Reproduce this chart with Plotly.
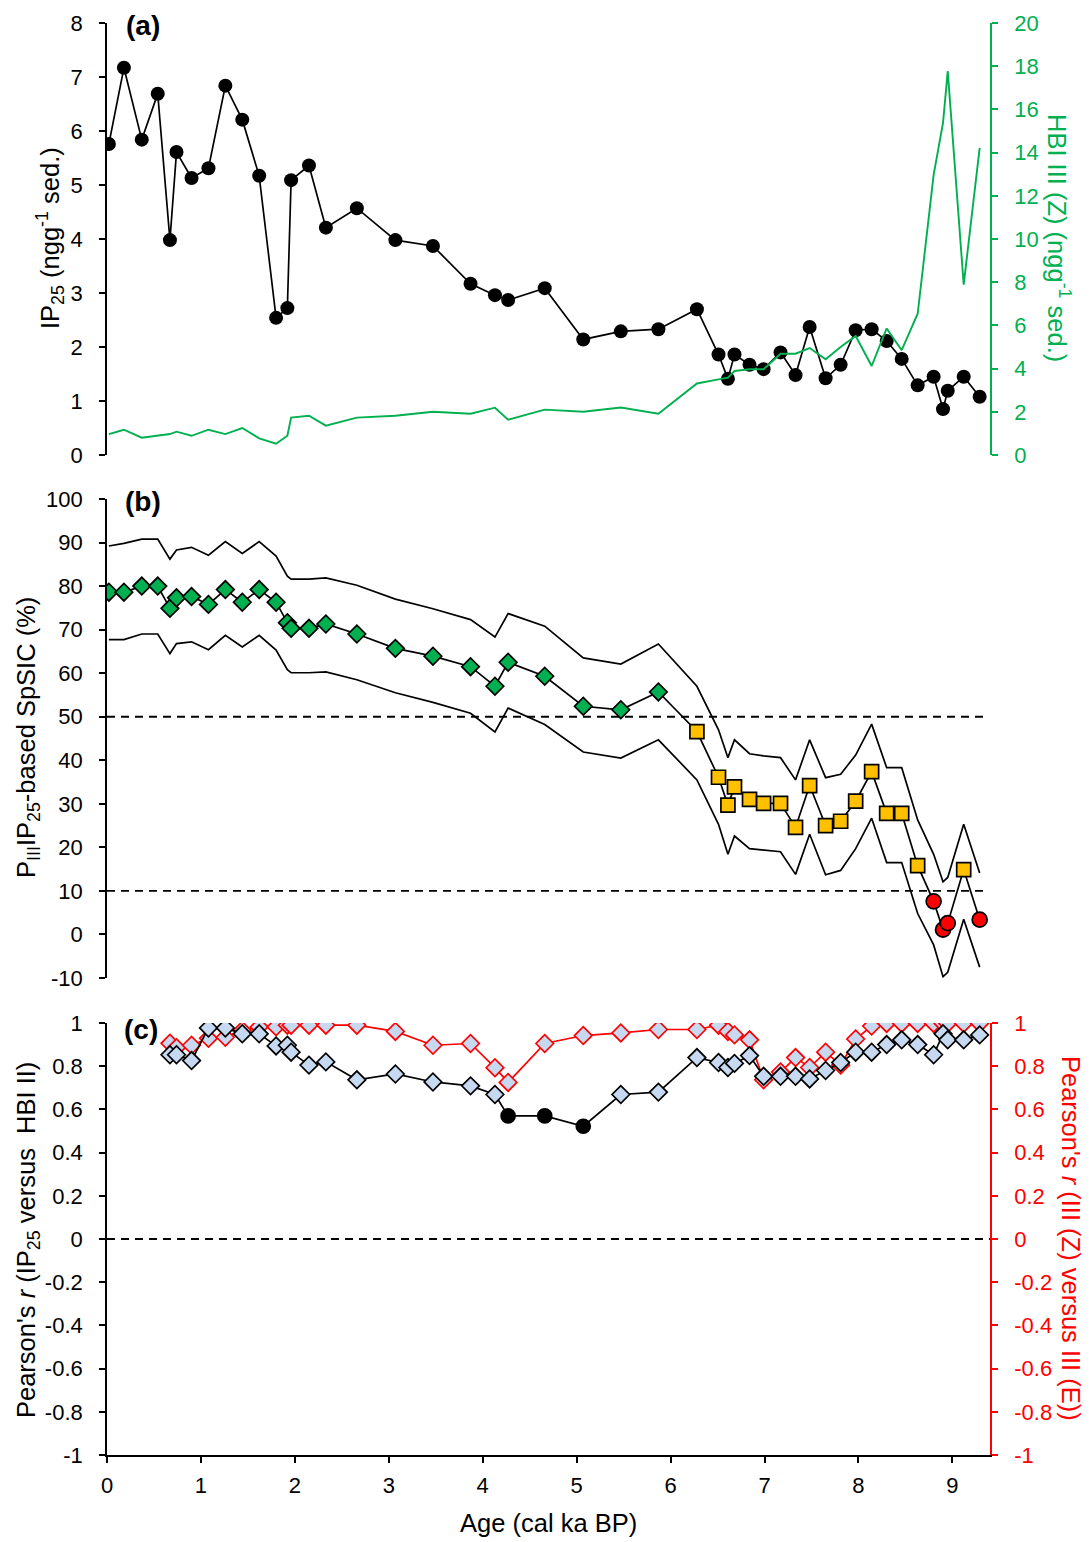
import plotly.graph_objects as go

# ---------------- data ----------------
ages = [0.02, 0.18, 0.37, 0.54, 0.67, 0.74, 0.90, 1.08, 1.26, 1.44, 1.62, 1.80, 1.92, 1.96,
        2.15, 2.33, 2.66, 3.07, 3.47, 3.87, 4.13, 4.27, 4.66, 5.07, 5.47, 5.87, 6.28, 6.51,
        6.61, 6.68, 6.84, 6.99, 7.17, 7.33, 7.48, 7.65, 7.81, 7.97, 8.14, 8.30, 8.46, 8.63,
        8.80, 8.90, 8.95, 9.12, 9.29]

ip25 = [5.76, 7.17, 5.84, 6.69, 3.98, 5.61, 5.13, 5.31, 6.84, 6.21, 5.17, 2.54, 2.72, 5.09,
        5.36, 4.21, 4.57, 3.98, 3.87, 3.17, 2.96, 2.87, 3.09, 2.14, 2.29, 2.33, 2.70, 1.86,
        1.41, 1.86, 1.67, 1.59, 1.90, 1.48, 2.37, 1.42, 1.67, 2.31, 2.33, 2.11, 1.78, 1.29,
        1.45, 0.85, 1.19, 1.45, 1.08]

hbi3_z = [0.97, 1.17, 0.80, 0.90, 0.97, 1.08, 0.89, 1.17, 0.97, 1.25, 0.77, 0.52, 0.89, 1.73,
          1.82, 1.36, 1.73, 1.82, 2.00, 1.91, 2.19, 1.63, 2.10, 2.00, 2.20, 1.91, 3.31, 3.50,
          3.58, 3.89, 3.97, 3.97, 4.69, 4.69, 4.95, 4.43, 5.00, 5.51, 4.12, 5.86, 4.85, 6.54,
          12.97, 15.38, 17.77, 7.89, 14.22]

spsic = [78.6, 78.6, 80.0, 80.0, 74.9, 77.3, 77.6, 75.8, 79.2, 76.3, 79.2, 76.3, 71.6, 70.3,
         70.3, 71.3, 69.0, 65.7, 63.9, 61.5, 57.0, 62.5, 59.3, 52.4, 51.6, 55.7, 46.6, 36.1,
         29.7, 33.9, 31.0, 30.1, 30.1, 24.6, 34.2, 25.0, 26.0, 30.6, 37.4, 27.8, 27.8, 15.8,
         7.6, 1.1, 2.6, 14.9, 3.4]

spsic_upper = [89.2, 89.8, 90.8, 90.8, 86.2, 88.3, 88.9, 87.1, 90.2, 87.5, 90.2, 86.9, 82.3,
               81.6, 81.6, 81.9, 80.2, 77.0, 74.8, 72.3, 68.3, 73.7, 70.8, 63.5, 62.1, 66.7,
               57.0, 47.0, 40.6, 44.7, 41.5, 41.0, 40.6, 35.5, 44.7, 36.0, 36.8, 41.2, 48.3,
               38.3, 38.3, 26.3, 18.4, 12.1, 13.1, 25.3, 14.1]

spsic_lower = [67.7, 67.7, 69.0, 69.0, 64.5, 66.8, 67.2, 65.4, 68.7, 66.0, 68.7, 65.3, 60.8,
               60.1, 60.1, 60.3, 58.5, 55.5, 53.3, 50.8, 46.5, 52.0, 48.2, 41.9, 40.5, 44.7,
               35.5, 25.3, 18.4, 22.6, 19.7, 19.4, 19.0, 13.8, 23.0, 13.7, 14.7, 19.7, 26.7,
               16.5, 16.5, 4.8, -2.4, -9.7, -8.7, 3.5, -7.5]

spsic_thresholds = [50, 10]

ages_c = ages[4:]
r_ip25_hbi2 = [0.853, 0.853, 0.826, 0.977, 0.977, 0.950, 0.950, 0.894, 0.897, 0.865, 0.805,
               0.820, 0.737, 0.764, 0.727, 0.709, 0.669, 0.570, 0.570, 0.522, 0.669, 0.680,
               0.840, 0.817, 0.794, 0.813, 0.849, 0.753, 0.753, 0.753, 0.741, 0.780, 0.817,
               0.865, 0.865, 0.900, 0.922, 0.900, 0.853, 0.950, 0.922, 0.922, 0.945]
r_z_e = [0.906, 0.886, 0.897, 0.929, 0.934, 0.966, 0.982, 0.982, 0.990, 0.990, 0.990, 0.990,
         0.990, 0.961, 0.897, 0.905, 0.793, 0.725, 0.905, 0.942, 0.954, 0.970, 0.970, 0.990,
         0.961, 0.945, 0.922, 0.737, 0.773, 0.840, 0.794, 0.865, 0.805, 0.926, 0.986, 0.998,
         0.998, 0.998, 0.998, 0.998, 0.998, 0.998, 0.998]
r_signif = 0.6

x_ticks = [0, 1, 2, 3, 4, 5, 6, 7, 8, 9]
a_left_ticks = [0, 1, 2, 3, 4, 5, 6, 7, 8]
a_right_ticks = [0, 2, 4, 6, 8, 10, 12, 14, 16, 18, 20]
b_ticks = [-10, 0, 10, 20, 30, 40, 50, 60, 70, 80, 90, 100]
c_ticks = [-1, -0.8, -0.6, -0.4, -0.2, 0, 0.2, 0.4, 0.6, 0.8, 1]

# ---------------- style ----------------
W, H = 1092, 1542
ML, MR, MT, MB = 107, 102, 23, 87
FONT = "Liberation Sans, Arial, sans-serif"
TICK = 22
TITLE = 25.5
GREEN = "#00B050"
YELLOW = "#FFC000"
RED = "#FF0000"
LBLUE = "#C6D9F1"
XMAX = 9.4


def py(p):
    return (H - MB - p) / (H - MT - MB)


def pxx(p):
    return (p - ML) / (W - ML - MR)


def lab(v):
    return "%g" % v


dom_a = [py(455), 1.0]
dom_b = [py(978), py(499)]
dom_c = [0.0, py(1023)]

fig = go.Figure()

# (a)
fig.add_trace(go.Scatter(x=ages, y=ip25, xaxis="x2", yaxis="y", mode="lines+markers",
                         line=dict(color="black", width=1.7),
                         marker=dict(symbol="circle", size=14, color="black", opacity=1),
                         showlegend=False))
fig.add_trace(go.Scatter(x=ages, y=hbi3_z, xaxis="x2", yaxis="y2", mode="lines",
                         line=dict(color=GREEN, width=1.9), showlegend=False))

# (b)
for band in (spsic_upper, spsic_lower):
    fig.add_trace(go.Scatter(x=ages, y=band, xaxis="x3", yaxis="y3", mode="lines",
                             line=dict(color="black", width=1.7), showlegend=False))

sym, col, siz = [], [], []
for v in spsic:
    if v >= spsic_thresholds[0]:
        sym.append("diamond"); col.append(GREEN); siz.append(13.5)
    elif v >= spsic_thresholds[1]:
        sym.append("square"); col.append(YELLOW); siz.append(14)
    else:
        sym.append("circle"); col.append(RED); siz.append(15)
fig.add_trace(go.Scatter(x=ages, y=spsic, xaxis="x3", yaxis="y3", mode="lines+markers",
                         line=dict(color="black", width=1.7),
                         marker=dict(symbol=sym, color=col, size=siz, opacity=1,
                                     line=dict(color="black", width=1.7)),
                         showlegend=False))

# (c) red (right axis, base) then black (left axis, overlay on top)
fig.add_trace(go.Scatter(x=ages_c, y=r_z_e, xaxis="x", yaxis="y4", mode="lines+markers",
                         line=dict(color=RED, width=1.7),
                         marker=dict(symbol="diamond", size=13.5, color=LBLUE, opacity=1,
                                     line=dict(color=RED, width=1.7)),
                         showlegend=False))
csym = ["diamond" if v >= r_signif else "circle" for v in r_ip25_hbi2]
ccol = [LBLUE if v >= r_signif else "black" for v in r_ip25_hbi2]
csz = [13.5 if v >= r_signif else 14 for v in r_ip25_hbi2]
fig.add_trace(go.Scatter(x=ages_c, y=r_ip25_hbi2, xaxis="x", yaxis="y5", mode="lines+markers",
                         line=dict(color="black", width=1.7),
                         marker=dict(symbol=csym, size=csz, color=ccol, opacity=1,
                                     line=dict(color="black", width=1.7)),
                         showlegend=False))

# dashed reference lines
shapes = []
for t in spsic_thresholds:
    shapes.append(dict(type="line", xref="x3 domain", yref="y3", x0=0, x1=0.993, y0=t, y1=t,
                       line=dict(color="black", width=1.8, dash="8px,6px")))
shapes.append(dict(type="line", xref="x domain", yref="y4", x0=0, x1=1, y0=0, y1=0,
                   line=dict(color="black", width=1.8, dash="8px,6px")))

axis_common = dict(showgrid=False, zeroline=False, showline=True, linewidth=1.7,
                   ticks="outside", ticklen=6, tickwidth=1.7, automargin=False,
                   ticklabelstandoff=12,
                   tickfont=dict(family=FONT, size=TICK))

fig.update_layout(
    width=W, height=H,
    margin=dict(l=ML, r=MR, t=MT, b=MB, autoexpand=False),
    paper_bgcolor="white", plot_bgcolor="white",
    font=dict(family=FONT, size=TICK, color="black"),
    shapes=shapes,
    xaxis=dict(domain=[0, 1], anchor="y4", range=[0, XMAX], tickvals=x_ticks,
               ticktext=[lab(v) for v in x_ticks], linecolor="black", tickcolor="black",
               **{**axis_common, "ticklabelstandoff": 4}),
    xaxis2=dict(domain=[0, 1], anchor="y", range=[0, XMAX], visible=False, automargin=False),
    xaxis3=dict(domain=[0, 1], anchor="y3", range=[0, XMAX], visible=False, automargin=False),
    yaxis=dict(domain=dom_a, anchor="x2", range=[0, 8], tickvals=a_left_ticks,
               ticktext=[lab(v) for v in a_left_ticks], linecolor="black",
               tickcolor="black", **axis_common),
    yaxis2=dict(overlaying="y", side="right", anchor="x2", range=[0, 20],
                tickvals=a_right_ticks, ticktext=[lab(v) for v in a_right_ticks],
                linecolor=GREEN, tickcolor=GREEN,
                **{**axis_common, "tickfont": dict(family=FONT, size=TICK, color=GREEN)}),
    yaxis3=dict(domain=dom_b, anchor="x3", range=[-10, 100], tickvals=b_ticks,
                ticktext=[lab(v) for v in b_ticks], linecolor="black", tickcolor="black",
                **axis_common),
    yaxis4=dict(domain=dom_c, anchor="x", side="right", range=[-1, 1], tickvals=c_ticks,
                ticktext=[lab(v) for v in c_ticks], linecolor=RED, tickcolor=RED,
                **{**axis_common, "tickfont": dict(family=FONT, size=TICK, color=RED)}),
    yaxis5=dict(overlaying="y4", side="left", anchor="x", range=[-1, 1], tickvals=c_ticks,
                ticktext=[lab(v) for v in c_ticks], linecolor="black", tickcolor="black",
                **axis_common),
)

ann = []


def add_text(text, x, y, angle=0, color="black", size=TITLE, bold=False):
    ann.append(dict(text=("<b>%s</b>" % text) if bold else text, xref="paper", yref="paper",
                    x=pxx(x), y=py(y), xanchor="center", yanchor="middle", showarrow=False,
                    textangle=angle, font=dict(family=FONT, size=size, color=color)))


add_text("IP<sub>25</sub> (ngg<sup>-1</sup> sed.)", 50, 238, angle=-90)
add_text("HBI III (Z) (ngg<sup>-1</sup> sed.)", 1059, 238, angle=90, color=GREEN)
add_text("P<sub>III</sub>IP<sub>25</sub>-based SpSIC (%)", 28, 738, angle=-90)
add_text("Pearson's <i>r</i> (IP<sub>25</sub> versus  HBI II)", 28, 1240, angle=-90)
add_text("Pearson's <i>r</i> (III (Z) versus III (E))", 1071, 1238, angle=90, color=RED)
add_text("Age (cal ka BP)", 548, 1523)
add_text("(a)", 143, 25, size=28, bold=True)
add_text("(b)", 143, 502, size=28, bold=True)
add_text("(c)", 141, 1029, size=28, bold=True)
fig.update_layout(annotations=ann)

fig.write_html("out.html",
               config={"displayModeBar": False},
               post_script="document.body.style.margin='0px';"
                           "document.body.style.overflow='hidden';")
